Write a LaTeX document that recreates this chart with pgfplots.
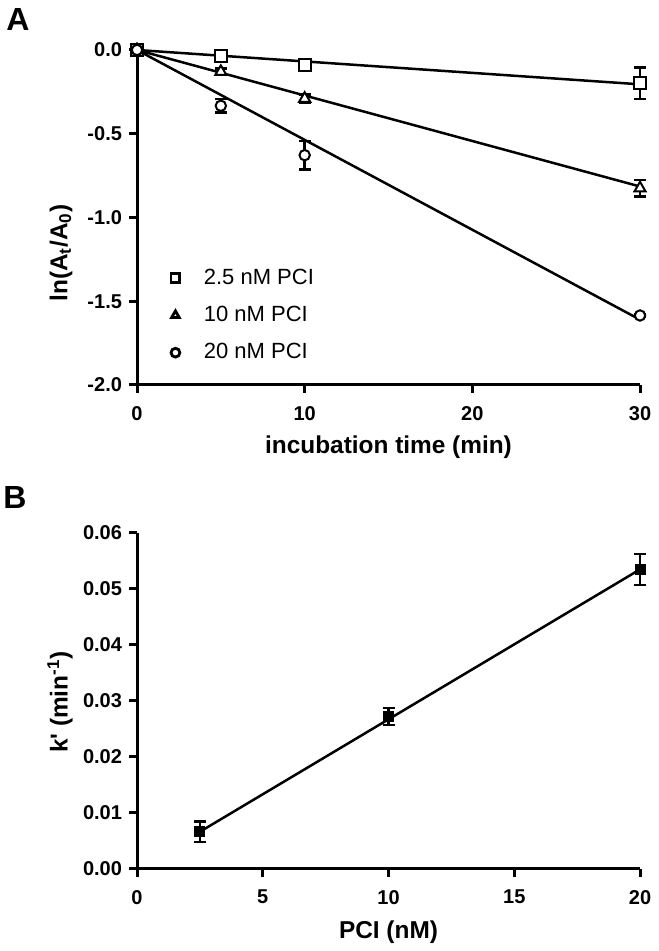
\documentclass[border=0pt]{standalone}
\usepackage{pgfplots}
\pgfplotsset{compat=1.18}
\usepackage{fontspec}
\setmainfont{Liberation Sans}

\pgfplotsset{
  prism/.style={
    scale only axis, width=251.5pt,
    axis x line*=bottom, axis y line*=left,
    axis line style={line width=1.5pt, black},
    tick align=outside, major tick length=4pt,
    tick style={line width=1.5pt, black},
    minor tick num=0,
    /pgf/number format/assume math mode=true,
    tick label style={font=\fontsize{10}{12}\selectfont\bfseries},
    xticklabel style={yshift=-3pt},
    label style={font=\fontsize{12.2}{14}\selectfont\bfseries},
    clip=false,
    scaled ticks=false,
  },
  ebars/.style={
    error bars/.cd, y dir=both, y explicit,
    error bar style={line width=1.2pt, black},
    error mark options={rotate=90, mark size=3pt, line width=1.2pt, black},
  },
}

\begin{document}
\begin{tikzpicture}[x=1pt,y=1pt]
\useasboundingbox (0,0) rectangle (329,475.5);

% Panel A
\begin{axis}[prism,
  at={(68.5pt,283pt)}, anchor=south west, height=167.5pt,
  xmin=0, xmax=30, ymin=-2, ymax=0,
  xtick={0,10,20,30},
  xticklabels={0,10,20,30},
  ytick={-2,-1.5,-1,-0.5,0},
  yticklabels={-2.0,-1.5,-1.0,-0.5,0.0},
  xlabel={incubation time (min)},
  ylabel={ln(A\textsubscript{t}/A\textsubscript{0})},
  xlabel style={at={(axis description cs:0.5,-0.185)}, anchor=center},
  ylabel style={at={(axis description cs:-0.151,0.394)}, anchor=center},
  legend style={draw=none, fill=none, at={(axis description cs:0.055,0.372)}, anchor=north west,
    font=\fontsize{11}{13}\selectfont, row sep=5.5pt,
    /tikz/every odd column/.append style={column sep=10pt}},
  legend cell align=left,
  legend image code/.code={\draw[#1, mark size=2.2pt, mark options={fill=white, draw=black, line width=1.4pt}] plot coordinates {(0.25cm,0cm)};},
]
\addplot[line width=1.25pt, forget plot] coordinates {(0,0) (30,-0.205)};
\addplot[line width=1.25pt, forget plot] coordinates {(0,0) (30,-0.815)};
\addplot[line width=1.25pt, forget plot] coordinates {(0,0) (30,-1.61)};

\addplot[only marks, mark=square*, mark size=3pt,
  mark options={fill=white, draw=black, line width=1pt}, ebars]
  coordinates {(0,0) +- (0,0) (5,-0.036) +- (0,0.01) (10,-0.089) +- (0,0.01) (30,-0.198) +- (0,0.093)};
\addplot[only marks, mark=triangle*, mark size=3.2pt,
  mark options={fill=white, draw=black, line width=1pt}, ebars]
  coordinates {(0,0) +- (0,0) (5,-0.13) +- (0,0.02) (10,-0.29) +- (0,0.025) (30,-0.825) +- (0,0.05)};
\addplot[only marks, mark=*, mark size=2.6pt,
  mark options={fill=white, draw=black, line width=1pt}, ebars]
  coordinates {(0,0) +- (0,0) (5,-0.333) +- (0,0.04) (10,-0.628) +- (0,0.085) (30,-1.585) +- (0,0.01)};
\legend{2.5 nM PCI, 10 nM PCI, 20 nM PCI}
\end{axis}

% Panel B
\begin{axis}[prism,
  at={(68.5pt,41pt)}, anchor=south west, height=168pt,
  xmin=0, xmax=20, ymin=0, ymax=0.06,
  xtick={0,5,10,15,20},
  xticklabels={0,5,10,15,20},
  ytick={0,0.01,0.02,0.03,0.04,0.05,0.06},
  yticklabels={0.00,0.01,0.02,0.03,0.04,0.05,0.06},
  xlabel={PCI (nM)},
  ylabel={k\textquotesingle\ (min\textsuperscript{-1})},
  xlabel style={at={(axis description cs:0.5,-0.1875)}, anchor=center},
  ylabel style={at={(axis description cs:-0.153,0.497)}, anchor=center},
]
\addplot[line width=1.25pt] coordinates {(2.5,0.00665) (20,0.0535)};
\addplot[only marks, mark=square*, mark size=2.5pt,
  mark options={fill=black, draw=black, line width=0.5pt}, ebars]
  coordinates {(2.5,0.00665) +- (0,0.0018) (10,0.0272) +- (0,0.0015) (20,0.0535) +- (0,0.0028)};
\end{axis}

\node[font=\fontsize{16}{18}\selectfont\bfseries] at (9pt,465.5pt) {A};
\node[font=\fontsize{16}{18}\selectfont\bfseries] at (7.5pt,226.5pt) {B};
\end{tikzpicture}
\end{document}
